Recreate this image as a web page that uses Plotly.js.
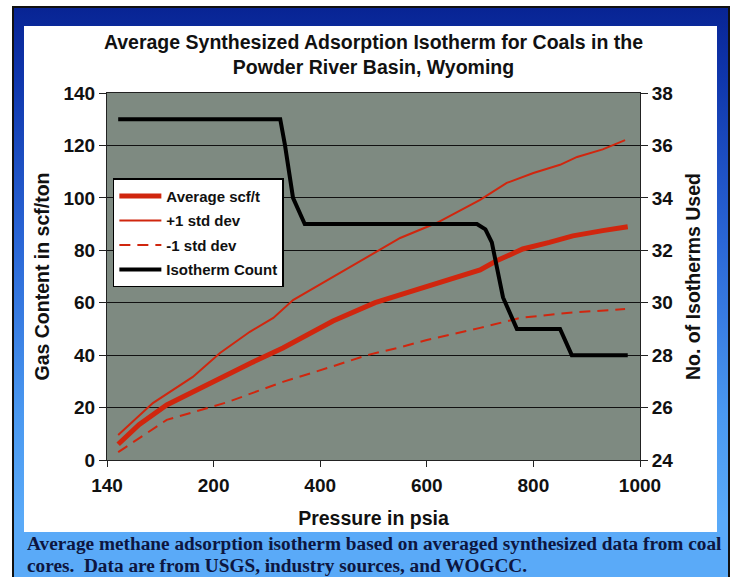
<!DOCTYPE html>
<html>
<head>
<meta charset="utf-8">
<script src="https://cdn.plot.ly/plotly-3.0.1.min.js"></script>
<style>
  html, body { margin:0; padding:0; background:#ffffff; }
  #frame { position:absolute; left:0; top:0; width:735px; height:577px; background:#ffffff; overflow:hidden; }
  #black { position:absolute; left:12px; top:6px; width:718px; height:580px; background:#111; }
  #blue { position:absolute; left:14px; top:8px; width:714px; height:580px;
          background:linear-gradient(to bottom, #082494 0%, #0f36ac 12%, #2a66d6 40%, #4a98f0 70%, #5aaaf8 88%, #5aaaf8 100%); }
  #panel { position:absolute; left:24px; top:26px; width:693px; height:506px; background:#ffffff; }
  #caption { position:absolute; left:27px; top:533px; width:705px;
             font-family:"Liberation Serif","Times New Roman",serif; font-weight:bold; font-size:19.3px;
             line-height:22px; color:#0d1640; white-space:nowrap; }
</style>
</head>
<body>
<div id="frame">
  <div id="black"></div>
  <div id="blue"></div>
  <div id="panel"><div id="chart" style="width:693px;height:506px;"></div></div>
  <div id="caption">Average methane adsorption isotherm based on averaged synthesized data from coal<br>cores.&nbsp; Data are from USGS, industry sources, and WOGCC.</div>
</div>
<script>
// Pressure positions (on the chart's x scale) and values
const avgP   = [21, 60, 112, 160, 206, 270, 330, 380, 424, 503, 550, 600, 650, 700, 731, 780, 830, 874, 930, 977];
const avgV   = [6, 13.5, 21, 26, 30.5, 37, 42.7, 48, 53, 60, 63, 66.5, 69.5, 72.5, 76, 80.5, 83, 85.5, 87.5, 89];

const plusP  = [21, 86, 161, 212, 268, 312, 349, 424, 512, 550, 619, 700, 750, 800, 850, 882, 930, 972];
const plusV  = [9.5, 21.7, 31.7, 40.8, 48.9, 54.2, 61, 69.8, 80.2, 84.7, 90.5, 99.2, 105.7, 109.5, 112.6, 115.6, 118.5, 122];

const minusP = [21, 112, 225, 330, 420, 488, 550, 600, 700, 775, 863, 972];
const minusV = [3, 15.3, 22, 29.8, 35.5, 40, 43, 45.8, 50.4, 54.2, 56.1, 57.6];

const isoP   = [21, 325, 334, 349, 371, 694, 710, 722, 728, 743, 769, 850, 872, 977];
const isoN   = [37, 37, 36, 34, 33, 33, 32.8, 32.3, 31.7, 30.2, 29, 29, 28, 28];

const xTickVals  = [0, 200, 400, 600, 800, 1000];
const xTickText  = ["140", "200", "400", "600", "800", "1000"];

const seriesNames = ["Average scf/t", "+1 std dev", "-1 std dev", "Isotherm Count"];

const red = "#d0260e";
const traces = [
  {x: avgP, y: avgV, name: seriesNames[0], mode: "lines", line: {color: red, width: 5}, legendgroup: "a"},
  {x: plusP, y: plusV, name: seriesNames[1], mode: "lines", line: {color: red, width: 2}, legendgroup: "b"},
  {x: minusP, y: minusV, name: seriesNames[2], mode: "lines", line: {color: red, width: 2, dash: "11px,7px"}, legendgroup: "c"},
  {x: isoP, y: isoN, name: seriesNames[3], mode: "lines", line: {color: "#000000", width: 4}, yaxis: "y2", legendgroup: "d"}
];

const fam = "Liberation Sans, Arial, sans-serif";
const tickFont = {family: fam, size: 19, color: "#111", weight: 700};
const axTitleFont = {family: fam, size: 19.5, color: "#111", weight: 700};
const titleFont = {family: fam, size: 19.5, color: "#111", weight: 700};

const layout = {
  width: 693, height: 506,
  margin: {l: 83, r: 77, t: 67, b: 72},
  paper_bgcolor: "#ffffff",
  plot_bgcolor: "#7e8a81",
  showlegend: true,
  title: {
    text: "Average Synthesized Adsorption Isotherm for Coals in the<br>Powder River Basin, Wyoming",
    font: titleFont, x: 0.5, xref: "paper", y: 0.955, yref: "container", yanchor: "top"
  },
  xaxis: {
    range: [0, 1000], tickvals: xTickVals, ticktext: xTickText,
    showgrid: false, zeroline: false, showline: true, linecolor: "#222", linewidth: 1, mirror: true,
    ticks: "outside", ticklen: 6, tickcolor: "#222", tickfont: tickFont, ticklabelstandoff: 2,
    title: {text: "Pressure in psia", font: axTitleFont, standoff: 16}
  },
  yaxis: {
    range: [0, 140], dtick: 20, showgrid: true, gridcolor: "#111", gridwidth: 1,
    zeroline: false, showline: true, linecolor: "#222", linewidth: 1,
    ticks: "outside", ticklen: 7, tickcolor: "#222", tickfont: tickFont,
    title: {text: "Gas Content in scf/ton", font: axTitleFont, standoff: 8}
  },
  yaxis2: {
    range: [24, 38], dtick: 2, overlaying: "y", side: "right", showgrid: false,
    zeroline: false, showline: true, linecolor: "#222", linewidth: 1,
    ticks: "outside", ticklen: 7, tickcolor: "#222", tickfont: tickFont,
    title: {text: "No. of Isotherms Used", font: axTitleFont, standoff: 13}
  },
  legend: {
    x: 0.011, y: 0.768, xanchor: "left", yanchor: "top",
    bgcolor: "#ffffff", bordercolor: "#000000", borderwidth: 1.5,
    font: {family: fam, size: 15, color: "#111", weight: 700},
    itemwidth: 42,
    traceorder: "grouped", tracegroupgap: 2
  }
};

Plotly.newPlot("chart", traces, layout, {displayModeBar: false, staticPlot: true});
</script>
</body>
</html>
